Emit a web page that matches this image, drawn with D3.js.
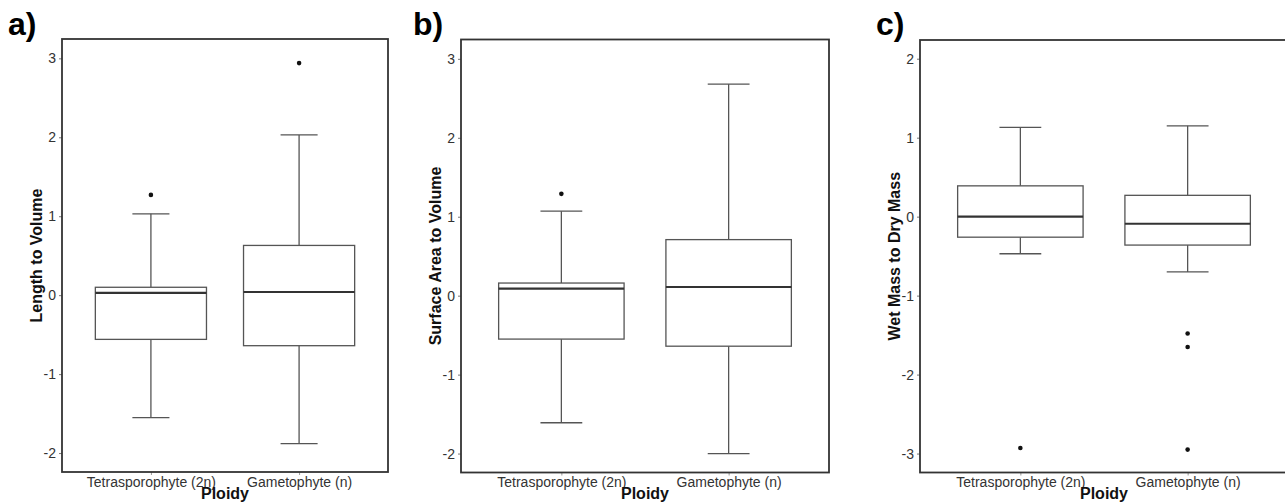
<!DOCTYPE html>
<html>
<head>
<meta charset="utf-8">
<script src="https://cdn.jsdelivr.net/npm/d3@7"></script>
<style>
  html, body { margin: 0; padding: 0; background: #fff; }
  svg { display: block; font-family: "Liberation Sans", Arial, sans-serif; }
</style>
</head>
<body>
<svg id="chart" width="1285" height="504"></svg>
<script>
// 类别
const categories = ["Tetrasporophyte (2n)", "Gametophyte (n)"];

// 每组: [下须, Q1, 中位数, Q3, 上须]
const lengthToVolume = [
    [-1.55, -0.56, 0.03, 0.10, 1.03],
    [-1.88, -0.64, 0.04, 0.63, 2.03]
];
const lengthToVolumeOutliers = [[1.27], [2.94]];

const surfaceToVolume = [
    [-1.61, -0.55, 0.09, 0.16, 1.07],
    [-2.00, -0.64, 0.11, 0.71, 2.68]
];
const surfaceToVolumeOutliers = [[1.29], []];

const wetToDry = [
    [-0.47, -0.26, 0.00, 0.39, 1.13],
    [-0.70, -0.36, -0.09, 0.27, 1.15]
];
const wetToDryOutliers = [[-2.93], [-1.48, -1.65, -2.95]];

// 刻度
const ticksAB = [-2, -1, 0, 1, 2, 3];
const ticksC = [-3, -2, -1, 0, 1, 2];

// 面板设置
const panels = [
    { tag: "a)", title: "Length to Volume", stats: lengthToVolume, outliers: lengthToVolumeOutliers,
      ticks: ticksAB, domain: [-2.24, 3.245], left: 62, right: 388, top: 39, bottom: 472, tagX: 8 },
    { tag: "b)", title: "Surface Area to Volume", stats: surfaceToVolume, outliers: surfaceToVolumeOutliers,
      ticks: ticksAB, domain: [-2.24, 3.245], left: 461, right: 829, top: 39.5, bottom: 472.5, tagX: 413 },
    { tag: "c)", title: "Wet Mass to Dry Mass", stats: wetToDry, outliers: wetToDryOutliers,
      ticks: ticksC, domain: [-3.24, 2.237], left: 920, right: 1288, top: 40, bottom: 472.5, tagX: 876 }
];

const svg = d3.select("#chart");
const boxColor = "#555";
const textColor = "#333";

panels.forEach(p => {
    const g = svg.append("g");

    const x = d3.scalePoint()
        .domain(categories)
        .range([p.left, p.right])
        .padding(0.6);
    const y = d3.scaleLinear()
        .domain(p.domain)
        .range([p.bottom, p.top]);

    const step = x.step();
    const boxW = step * 0.75;
    const capW = step * 0.25;

    // y 轴 (用普通连字符作负号)
    const yAxis = g.append("g")
        .attr("transform", `translate(${p.left},0)`)
        .call(d3.axisLeft(y).tickValues(p.ticks).tickSize(3).tickPadding(3).tickFormat(d => String(d)));
    yAxis.select(".domain").remove();
    yAxis.selectAll("line").attr("stroke", "#777");
    yAxis.selectAll("text")
        .attr("fill", textColor)
        .style("font-size", "14px")
        .style("font-family", "Liberation Sans, Arial, sans-serif");

    // x 轴
    const xAxis = g.append("g")
        .attr("transform", `translate(0,${p.bottom})`)
        .call(d3.axisBottom(x).tickSize(3).tickPadding(2));
    xAxis.select(".domain").remove();
    xAxis.selectAll("line").attr("stroke", "#999");
    xAxis.selectAll("text")
        .attr("fill", textColor)
        .style("font-size", "14px")
        .style("font-family", "Liberation Sans, Arial, sans-serif");

    // 箱线图
    const box = g.selectAll(".box")
        .data(categories.map((c, i) => ({ cat: c, s: p.stats[i], out: p.outliers[i] })))
        .join("g")
        .attr("class", "box");

    // 须
    box.append("line")
        .attr("x1", d => x(d.cat)).attr("x2", d => x(d.cat))
        .attr("y1", d => y(d.s[4])).attr("y2", d => y(d.s[3]))
        .attr("stroke", boxColor).attr("stroke-width", 1.3);
    box.append("line")
        .attr("x1", d => x(d.cat)).attr("x2", d => x(d.cat))
        .attr("y1", d => y(d.s[1])).attr("y2", d => y(d.s[0]))
        .attr("stroke", boxColor).attr("stroke-width", 1.3);
    // 须端横线
    [0, 4].forEach(k => {
        box.append("line")
            .attr("x1", d => x(d.cat) - capW / 2).attr("x2", d => x(d.cat) + capW / 2)
            .attr("y1", d => y(d.s[k])).attr("y2", d => y(d.s[k]))
            .attr("stroke", boxColor).attr("stroke-width", 1.3);
    });
    // 箱体
    box.append("rect")
        .attr("x", d => x(d.cat) - boxW / 2)
        .attr("width", boxW)
        .attr("y", d => y(d.s[3]))
        .attr("height", d => y(d.s[1]) - y(d.s[3]))
        .attr("fill", "#fff")
        .attr("stroke", boxColor)
        .attr("stroke-width", 1.3);
    // 中位数
    box.append("line")
        .attr("x1", d => x(d.cat) - boxW / 2).attr("x2", d => x(d.cat) + boxW / 2)
        .attr("y1", d => y(d.s[2])).attr("y2", d => y(d.s[2]))
        .attr("stroke", "#333").attr("stroke-width", 2.2);
    // 离群点
    box.selectAll("circle")
        .data(d => d.out.map(v => ({ cat: d.cat, v })))
        .join("circle")
        .attr("cx", d => x(d.cat))
        .attr("cy", d => y(d.v))
        .attr("r", 2.3)
        .attr("fill", "#111");

    // 边框
    g.append("rect")
        .attr("x", p.left).attr("y", p.top)
        .attr("width", p.right - p.left).attr("height", p.bottom - p.top)
        .attr("fill", "none")
        .attr("stroke", "#333")
        .attr("stroke-width", 1.8);

    // 轴标题
    g.append("text")
        .attr("transform", `translate(${p.left - 26},${(p.top + p.bottom) / 2}) rotate(-90)`)
        .attr("text-anchor", "middle")
        .attr("dy", "0.35em")
        .style("font-size", "16px")
        .style("font-weight", "bold")
        .attr("fill", "#111")
        .text(p.title);
    g.append("text")
        .attr("x", (p.left + p.right) / 2)
        .attr("y", 499)
        .attr("text-anchor", "middle")
        .style("font-size", "16px")
        .style("font-weight", "bold")
        .attr("fill", "#111")
        .text("Ploidy");

    // 面板标签
    g.append("text")
        .attr("x", p.tagX)
        .attr("y", 35)
        .style("font-size", "32px")
        .style("font-weight", "bold")
        .attr("fill", "#000")
        .text(p.tag);
});
</script>
</body>
</html>
